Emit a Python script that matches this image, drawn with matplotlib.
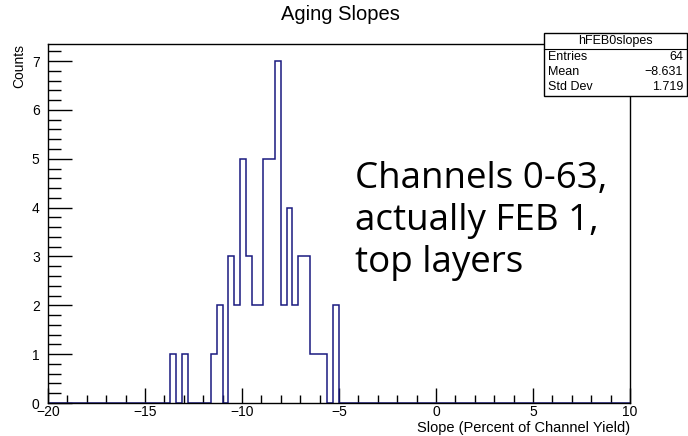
import numpy as np
import matplotlib.pyplot as plt
from matplotlib.ticker import MultipleLocator
from matplotlib.patches import Rectangle

# slope histogram, 100 bins between -20 and 10
n_bins = 100
x_lo, x_hi = -20, 10

bin_centers = [-13.55, -12.95, -11.45, -11.15, -10.55, -10.25, -9.95, -9.65,
               -9.35, -9.05, -8.75, -8.45, -8.15, -7.85, -7.55, -7.25,
               -6.95, -6.65, -6.35, -6.05, -5.75, -5.15]
counts = [1, 1, 1, 2, 3, 2, 5, 3,
          2, 2, 5, 5, 7, 2, 4, 2,
          3, 3, 1, 1, 1, 2]

stats_name = "hFEB0slopes"
stats_rows = [("Entries", "64"), ("Mean", "\u22128.631"), ("Std Dev", "1.719")]

plt.rcParams['font.family'] = ['Liberation Sans', 'DejaVu Sans']

fig = plt.figure(figsize=(6.88, 4.36), dpi=100)
W, H = 688, 436
ax = fig.add_axes([48 / W, 1 - 403 / H, 582 / W, 359 / H])

edges = np.linspace(x_lo, x_hi, n_bins + 1)
ax.hist(bin_centers, bins=edges, weights=counts, histtype='step',
        color='#1a1a80', linewidth=1.1)

ax.set_xlim(x_lo, x_hi)
ax.set_ylim(0, 7.35)

ax.xaxis.set_major_locator(MultipleLocator(5))
ax.xaxis.set_minor_locator(MultipleLocator(1))
ax.yaxis.set_major_locator(MultipleLocator(1))
ax.yaxis.set_minor_locator(MultipleLocator(0.2))
ax.tick_params(axis='x', which='major', direction='in', length=11, width=1,
               labelsize=10, pad=1.5, top=False)
ax.tick_params(axis='x', which='minor', direction='in', length=6, width=1, top=False)
ax.tick_params(axis='y', which='major', direction='in', length=17, width=1,
               labelsize=10, pad=6, right=False)
ax.tick_params(axis='y', which='minor', direction='in', length=9, width=1, right=False)
for s in ax.spines.values():
    s.set_linewidth(1)

ax.set_xlabel("Slope (Percent of Channel Yield)", fontsize=10.5)
ax.xaxis.set_label_coords(1.0, -0.05)
ax.xaxis.label.set_horizontalalignment('right')
ax.set_ylabel("Counts", fontsize=10)
ax.yaxis.set_label_coords(-0.062, 1.0)
ax.yaxis.label.set_verticalalignment('top')
ax.yaxis.label.set_horizontalalignment('right')

fig.text(340.5 / W, 1 - 15 / H, "Aging Slopes", ha='center', va='center', fontsize=14.5)

# stats box in the top-right corner
bx0, by0, bx1, by1 = 544, 33, 687, 96
fig.patches.append(Rectangle((bx0 / W, 1 - by1 / H), (bx1 - bx0) / W, (by1 - by0) / H,
                             transform=fig.transFigure, facecolor='white',
                             edgecolor='black', linewidth=1, zorder=5))
fig.add_artist(plt.Line2D([bx0 / W, bx1 / W], [1 - 49 / H, 1 - 49 / H],
                          transform=fig.transFigure, color='black', linewidth=0.8, zorder=6))
fig.text((bx0 + bx1) / 2 / W, 1 - 41 / H, stats_name, ha='center', va='center',
         fontsize=9, zorder=7)
for i, (k, v) in enumerate(stats_rows):
    y = 1 - (57 + 15 * i) / H
    fig.text(548 / W, y, k, ha='left', va='center', fontsize=9, zorder=7)
    fig.text(683 / W, y, v, ha='right', va='center', fontsize=9, zorder=7)

ax.text(355 / W, 1 - 221 / H, "Channels 0-63,\nactually FEB 1,\ntop layers",
        transform=fig.transFigure, ha='left', va='center', fontsize=26.5,
        family='Open Sans', linespacing=1.22)

fig.savefig("out.png", dpi=100)
